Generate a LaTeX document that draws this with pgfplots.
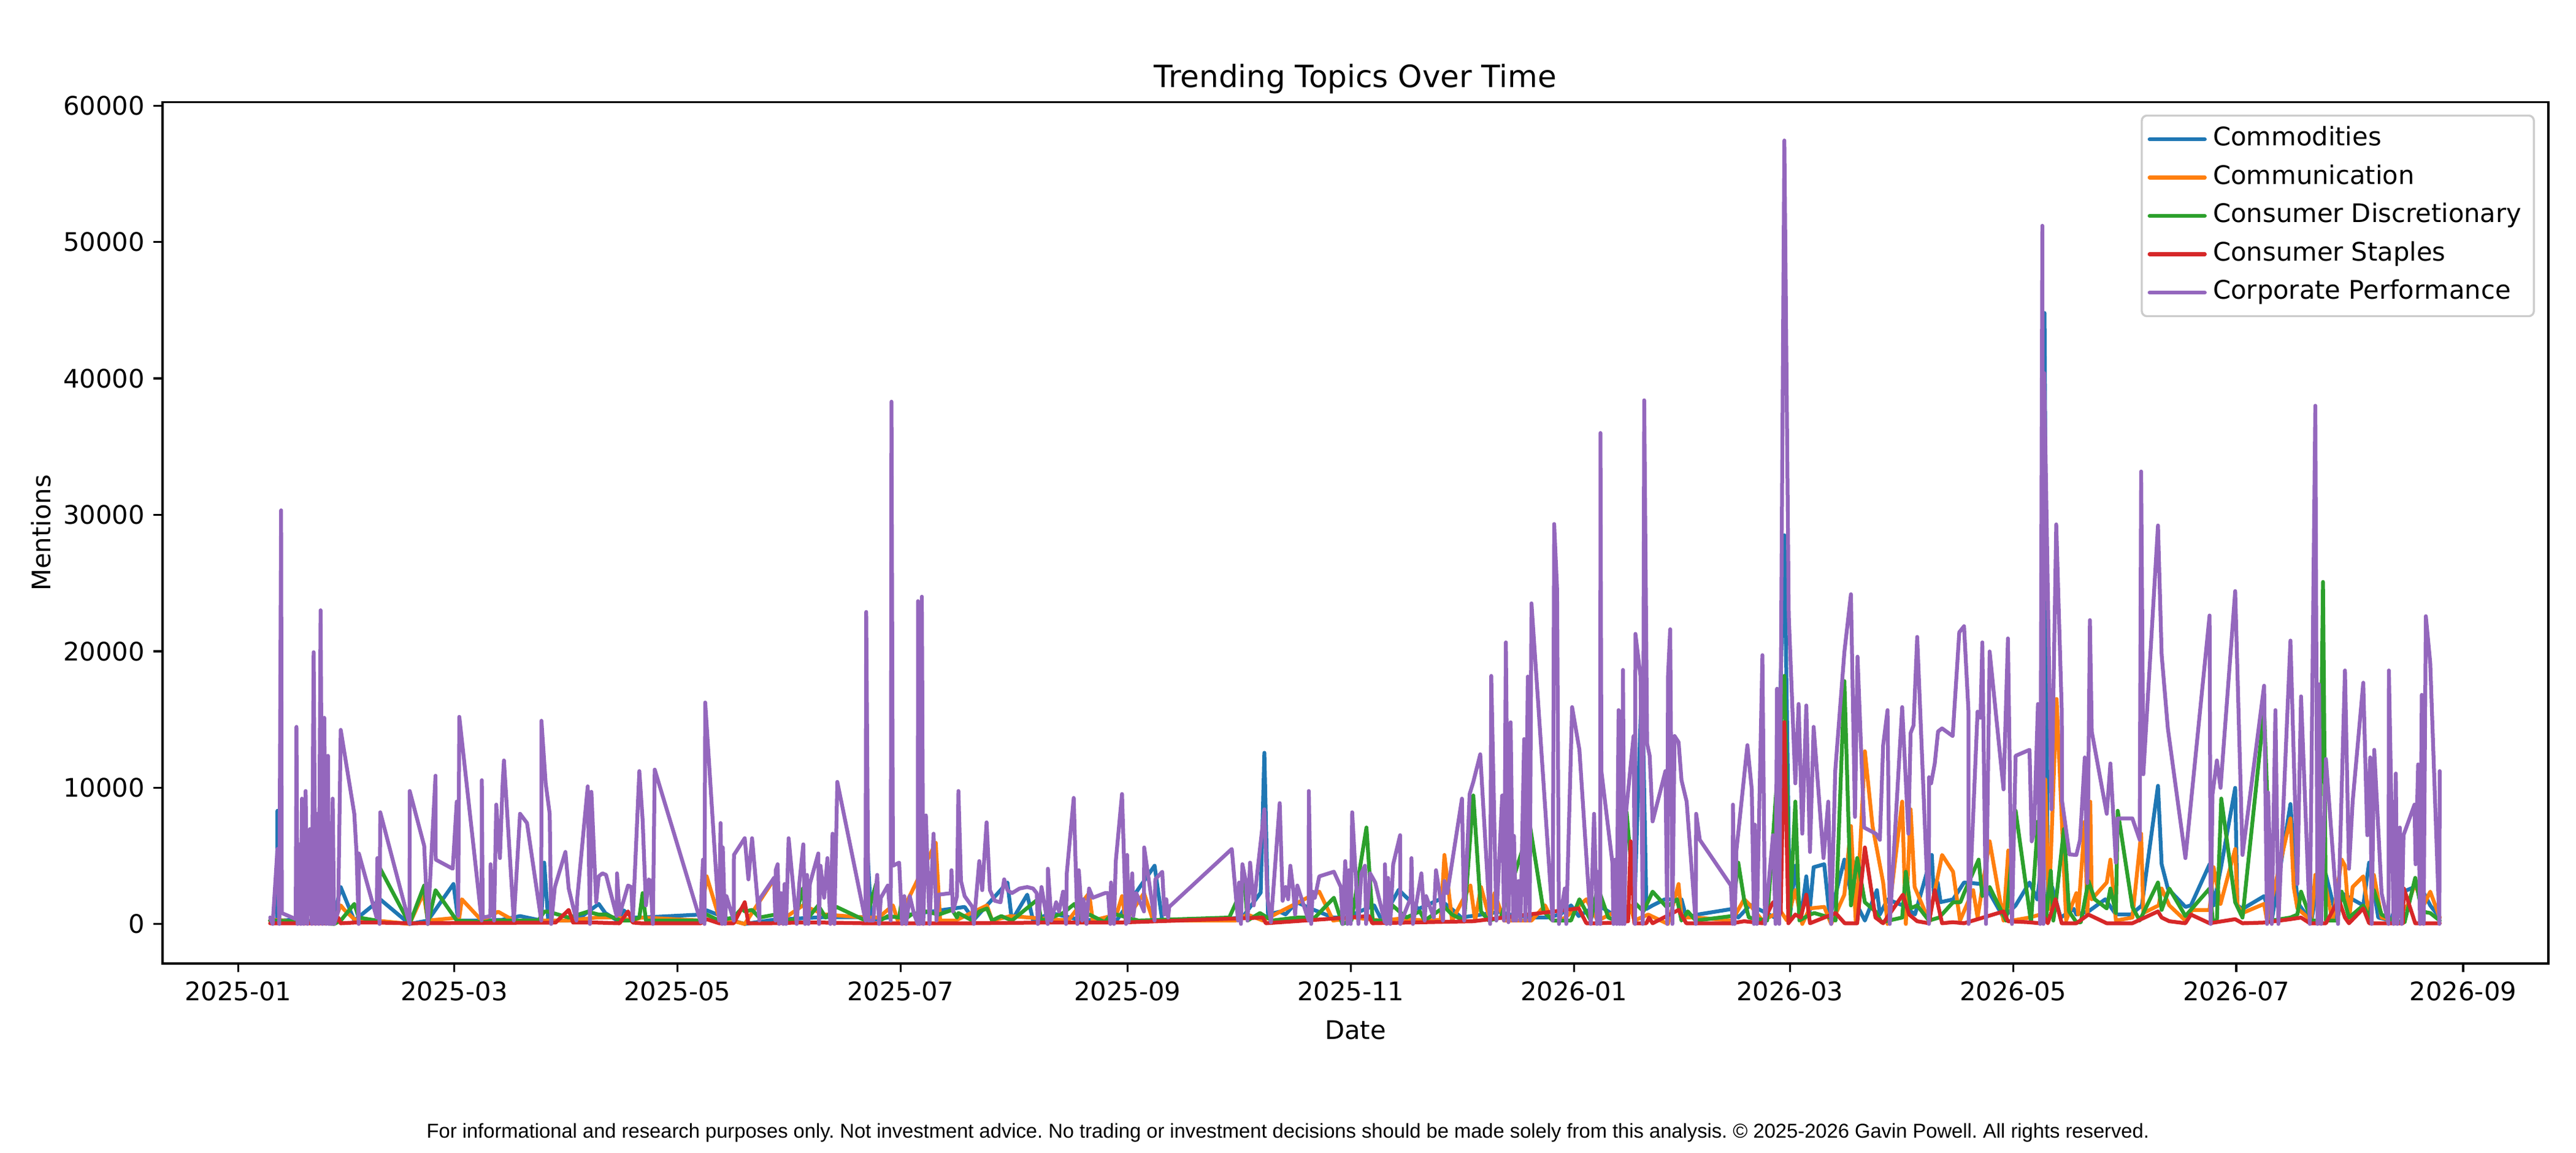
\documentclass[border=0pt]{standalone}
\usepackage{pgfplots}
\pgfplotsset{compat=1.18}
\usepackage{fontspec}
\setmainfont{DejaVu Sans}
\newfontfamily\footfont{Liberation Sans}
\definecolor{c0}{HTML}{1F77B4}
\definecolor{c1}{HTML}{FF7F0E}
\definecolor{c2}{HTML}{2CA02C}
\definecolor{c3}{HTML}{D62728}
\definecolor{c4}{HTML}{9467BD}
\tikzset{ser/.style={line width=1.5bp, line join=round, line cap=round}}
\begin{document}
\frenchspacing
\begin{tikzpicture}
\useasboundingbox (0,0) rectangle (1008bp,451.2bp);
\begin{axis}[
  at={(63.6bp,74.2bp)}, anchor=south west,
  scale only axis, width=933.6bp, height=336.96bp,
  xmin=-20.7, xmax=631.3, ymin=-2891, ymax=60252,
  xtick={0,59,120,181,243,304,365,424,485,546,608},
  xticklabels={2025-01,2025-03,2025-05,2025-07,2025-09,2025-11,2026-01,2026-03,2026-05,2026-07,2026-09},
  ytick={0,10000,20000,30000,40000,50000,60000},
  scaled y ticks=false,
  yticklabel style={/pgf/number format/.cd, fixed, 1000 sep={}, assume math mode=true},
  tick align=outside, major tick length=3.5bp,
  tick style={line width=0.8bp, black},
  axis line style={line width=0.8bp},
  tick pos=left,
  tick label style={font=\fontsize{10bp}{12bp}\selectfont},
  label style={font=\fontsize{10bp}{12bp}\selectfont},
  xlabel={Date}, ylabel={Mentions},
  xlabel style={at={(axis description cs:0.5,-0.0777)}, anchor=center},
  ylabel style={at={(axis description cs:-0.051,0.5)}, anchor=center},
  legend cell align=left,
  legend image code/.code={\draw[#1, line width=1.5bp] (0bp,0bp) -- (21.6bp,0bp);},
  legend style={at={(1,1)}, anchor=north east, xshift=-5.3bp, yshift=-4.8bp,
    draw=black!20, line width=0.8bp, rounded corners=2bp,
    fill=white, fill opacity=0.8, draw opacity=1, text opacity=1,
    inner xsep=2.3bp, inner ysep=2.75bp, row sep=2bp,
    font=\fontsize{10bp}{12bp}\selectfont,
    nodes={inner xsep=2.5bp, inner ysep=1.5bp, text height=7.6bp, text depth=2.4bp}},
]
% Commodities
\addplot[c0, ser] coordinates {
(8.7,250) (10.6,300) (10.7,8300) (11.2,250) (15,300) (20,200) (26,300) (28.0,2700) (31.7,250) (38.8,1800)
(46.8,0) (51.8,250) (58.8,2930) (60.1,250) (66.8,250) (72,300) (77.0,580) (78.9,470) (82.8,250) (83.6,4500)
(84.7,250) (86.9,250) (92.4,250) (95.7,920) (98.5,1470) (100.3,800) (103.6,250) (105.3,1000) (107.8,470) (110.1,470)
(127.0,700) (128.0,1000) (135.1,250) (138.4,0) (146,300) (160,500) (171.6,500) (172.0,5000) (173,300) (198.5,1250)
(201,300) (210.2,3040) (211.4,250) (215.6,2150) (217.2,250) (222.2,800) (230,300) (240,250) (250.4,4270) (252.5,250)
(271.5,400) (274.4,470) (279.4,2300) (280.4,12550) (281.4,700) (284.6,900) (286.2,700) (289.2,1600) (293.3,1100) (299.2,470)
(302.5,470) (310.4,1360) (312.5,250) (317.1,2500) (322.5,1100) (328.3,1800) (332.5,900) (334.2,470) (345,900) (347,700)
(353.4,470) (357.5,470) (361.3,700) (364.2,1360) (366.3,580) (371.5,1400) (375.7,700) (379.8,1100) (381.5,1100) (383.6,18140)
(384.8,1100) (386.5,1360) (389.8,1800) (394.4,1800) (395.7,470) (399.0,700) (408.2,1100) (409.9,470) (413.2,1400) (419.9,470)
(422.5,28500) (424.0,470) (425.5,4270) (427.0,350) (428.5,3490) (429.4,900) (430.5,4160) (433.4,4380) (434.9,470) (438.9,4720)
(440.7,2260) (444.5,250) (447.8,2480) (448.6,700) (450.7,1800) (454.9,1360) (458.2,700) (462.8,5060) (463.4,1800) (464.4,3040)
(465.2,1600) (468.6,1800) (471.6,3040) (476.6,2930) (478.6,2260) (482.4,470) (485.7,1360) (489.5,3040) (491.6,1800) (492.8,4500)
(493.6,44800) (494.5,1360) (495.7,2700) (498.0,470) (501.6,1100) (502.3,700) (505.6,920) (510.2,1810) (513.1,700) (517.3,700)
(520.2,1360) (524.6,10130) (525.6,4380) (527.3,2600) (532.1,1250) (533.6,1360) (538.7,4380) (539.8,1360) (541.9,4270) (545.7,9980)
(546.3,1360) (547.7,1100) (553.6,2040) (555.7,250) (560.8,8790) (562.7,1600) (566.5,130) (568.6,3600) (570.5,3600) (573.6,250)
(574.8,2260) (577.8,1800) (580.7,1360) (582.3,4500) (584.8,470) (588.2,250) (590.7,2260) (594.7,2710) (596.2,2830) (599.0,1360)
(601.6,470)
};
% Communication
\addplot[c1, ser] coordinates {
(8.7,250) (11,300) (15,150) (26,100) (28.0,1360) (29.0,1030) (31.7,350) (37.8,250) (46.8,0) (50.6,2260)
(51.8,250) (60.4,470) (61.1,1810) (66.5,250) (71,900) (75.3,250) (86,250) (90,250) (98,470) (104,470)
(107.8,250) (110.1,470) (126.4,250) (128.0,3490) (131.4,470) (138.4,0) (146.4,3270) (148.3,250) (154.3,1360) (160.1,700)
(171.4,470) (175,470) (178.9,1360) (180.2,250) (190.6,5950) (191.8,250) (196,250) (204.6,1360) (206.0,250) (211,580)
(226.8,250) (232.5,2260) (233.5,250) (240.0,690) (241.5,2040) (242.5,250) (247.5,2260) (250.0,250) (272.5,250) (275.8,690)
(280.0,250) (295.4,2370) (299.2,250) (305.0,470) (312.0,250) (318.0,400) (324.0,250) (328.6,300) (329.6,5060) (331.7,250)
(336.7,2820) (338.0,250) (339.6,2710) (342.1,250)
(343.3,2260) (345.9,250) (353.4,250) (357.1,1360) (359.2,250) (360.9,250) (362.6,470) (368.4,1810) (370.1,920) (371.5,250)
(374.8,690) (380.3,1360) (381.5,250) (385.3,690) (390.7,0) (393.6,2930) (394.4,470) (398.3,470) (408.2,250) (411.5,1810)
(413.2,1360) (416.5,250) (421.5,920) (423.2,250) (425.5,2480) (427.4,0) (429.4,1140) (433.4,1250) (435.3,0) (438.9,2150)
(440.7,7180) (442.0,250) (443.2,5500) (444.5,12660) (446.6,7180) (449.5,3040) (450.7,0) (454.7,8970) (455.7,0) (457.0,8410)
(458.1,2710) (462.0,250) (465.6,5060) (468.6,3830) (470.5,250) (474.1,2480) (475.3,470) (478.6,6060) (482.4,250) (483.7,5390)
(484.7,250) (489.5,470) (492.4,690) (493.8,10600) (494.8,1100) (496.9,16500) (499.5,250) (502.3,2260) (502.8,700) (504.6,7500)
(505.3,700) (506.1,8970) (506.5,1810) (510.6,3040) (511.6,4720) (513.1,250) (517.6,470) (520.0,6620) (520.6,800) (524.8,1360)
(525.6,2600) (527.7,1360) (532.1,250) (534.0,1030) (538.7,1030) (539.8,4160) (541.7,1470) (545.7,5500) (546.3,1360) (547.7,800)
(553.6,1470) (554.4,250) (560.8,7740) (561.7,2710) (562.7,1140) (566.5,250) (567.6,3600) (569.7,3710) (572.3,250) (574.8,4720)
(575.7,4270) (576.8,250) (577.8,2710) (580.7,3490) (582.3,470) (583.6,3600) (585.7,470) (589.0,250) (592.8,1360) (594.8,2930)
(597.2,1360) (599.0,2370) (601.6,470)
};
% Consumer Discretionary
\addplot[c2, ser] coordinates {
(8.7,250) (15,200) (26.2,0) (28.0,250) (31.7,1470) (32.9,470) (37.8,250) (38.8,4050) (46.8,0) (50.8,2820)
(51.8,0) (53.9,2480) (59.7,250) (66.5,130) (70,250) (82,250) (83.6,900) (84.7,900) (90.3,470) (95.5,900)
(98.5,690) (100.5,690) (104.5,250) (107.4,250) (109.6,470) (110.5,2260) (111.4,250) (126.4,250) (128.0,690) (131.4,250)
(135.3,470) (137.6,1140) (138.4,920) (140.4,1030) (142.4,470) (146.8,690) (149.3,350) (152,250) (154.3,2600) (155.1,250)
(158.5,1360) (160.5,470) (163.5,1250) (171.4,250) (174.3,2930) (175.4,250) (177.5,580) (180.6,470) (181.4,1920) (181.8,250)
(183.9,690) (187.9,920) (191.4,690) (195.1,1030) (196.4,470) (196.8,800) (200.6,250) (202.5,920) (204.6,1140) (206.0,250)
(208.5,580) (211.4,250) (218.5,1810) (219.4,250) (222.2,470) (225.4,800) (228.5,1470) (230.2,470) (232.6,690) (236.8,130)
(238.5,690) (240.0,690) (246,250) (270.8,470) (275.0,2930) (275.8,250) (279.2,800) (282.5,250) (289.1,470) (294.2,470)
(299.4,1920) (301.7,0) (304.2,250) (308.3,7070) (310.0,250) (314.2,250) (315.4,1360) (319.2,470) (322.9,920) (324.2,250)
(329.6,1250) (331.7,690) (335.0,250) (337.5,9420) (339.6,920) (341.7,250) (345,470) (353.0,7180) (356.7,920) (359.2,250)
(361.0,250) (364.2,250) (366.5,1810) (369.6,250) (371.5,2700) (374.4,470) (376.5,250) (379.4,8190) (381.5,1590) (384.0,920)
(386.5,2370) (390.3,1250) (393.2,1810) (394.4,250) (396.1,920) (398.3,250) (408.2,580) (409.9,4500) (411.5,1800) (412.8,470)
(417.8,250) (422.5,18190) (424.0,470) (425.5,8970) (426.6,250) (429.5,690) (430.7,800) (434.9,470) (436.5,250) (438.9,17810)
(440.7,1360) (442.4,4830) (444.5,1590) (447.4,920) (449.0,130) (454.7,470) (455.7,3830) (457.0,1140) (458.8,1360) (462.0,250)
(464.8,470) (468.6,1590) (470.6,1590) (471.6,2260) (475.6,4720) (476.6,2040) (478.6,2710) (483.1,250) (485.7,8300) (489.9,130)
(491.8,7520) (493.0,3830) (494.0,250) (495.3,3900) (496.0,250) (496.7,1600) (498.9,6960) (500.3,920) (502.3,130) (503.5,130)
(505.6,3150) (507.3,1810) (510.6,1140) (511.6,2600) (513.1,800) (513.6,8300) (517.6,1250) (519.6,250) (524.6,3040) (525.6,1030)
(527.7,2600) (532.1,580) (538.7,2600) (539.6,250) (540.7,250) (541.9,9190) (545.7,1590) (547.7,470) (553.6,15680) (555.7,250)
(560.8,470) (562.7,690) (563.7,2370) (566.5,250) (568.6,250) (569.7,25080) (570.5,250) (573.6,250) (574.8,2370) (576.8,470)
(580.7,1360) (582.3,470) (583.6,2480) (585.7,690) (589.0,250) (592.0,130) (594.9,3380) (596.7,920) (599.0,800) (601.6,250)
};
% Consumer Staples
\addplot[c3, ser] coordinates {
(8.7,50) (26.2,50) (27.3,470) (28.0,50) (31.7,100) (37.8,100) (46.8,50) (86.7,100) (90.3,1030) (91.5,100)
(98.0,100) (104.2,50) (106.5,920) (107.8,100) (110.1,50) (126.4,50) (128.0,350) (131.4,50) (135.4,50) (138.4,1590)
(139.4,50) (145.5,50) (153,100) (160,100) (171,50) (200,50) (220,100) (240.8,100) (280.0,470) (280.8,50)
(309.0,580) (309.9,50) (337.5,200) (366.3,1140) (368.4,50) (371.5,50) (376.5,100) (379.8,200) (380.5,6060) (381.5,50)
(384.8,50) (385.5,470) (386.5,50) (393.6,1030) (395.7,50) (408.2,50) (411.5,200) (416.5,50) (419.4,1590) (421.5,800)
(422.5,14800) (423.6,50) (425.5,690) (427.0,470) (428.5,2150) (429.5,50) (436.5,800) (439.0,50) (442.4,50) (444.5,5610)
(447.4,470) (449.5,50) (454.9,2150) (456.6,690) (458.8,200) (462.0,50) (463.6,2480) (465.6,50) (468.5,130) (471.6,50)
(482.4,920) (483.6,200) (489.0,130) (492.4,50) (493.5,500) (494.5,50) (496.6,1810) (498.3,50) (502.3,50) (505.6,690)
(510.6,50) (513.6,50) (517.6,50) (520.0,350) (524.6,920) (525.6,470) (527.7,200) (532.1,50) (533.6,690) (538.7,50)
(545.7,350) (547.7,50) (553.6,100) (560.8,350) (563.7,470) (566.1,50) (570.5,50) (574.0,1810) (575.7,470) (576.8,50)
(580.7,1140) (582.3,50) (591.5,50) (591.8,2600) (594.9,50) (597.0,50) (601.6,50)
};
% Corporate Performance
\addplot[c4, ser] coordinates {
(8.7,470) (9.4,0) (10.7,5500) (11.2,0) (11.7,30330) (11.9,800) (15.7,360) (15.9,14450) (16.2,0) (16.7,5840)
(17.1,0) (17.4,9190) (17.9,0) (18.4,9750) (18.9,0) (19.6,6960) (20.1,0) (20.6,19930) (21.1,0) (21.6,8080)
(22.0,0) (22.5,23000) (23.0,0) (23.5,15120) (24.0,0) (24.5,12330) (24.8,0) (25.1,6620) (25.4,0) (25.8,9190)
(26.2,0) (27.3,920) (28.0,14230) (31.7,8080) (32.3,5280) (32.9,0) (32.95,5170) (37.8,470) (38.0,4830) (38.6,0)
(38.8,8190) (46.8,0) (46.85,9750) (50.8,5730) (51.8,0) (53.9,10870) (53.95,4720) (58.6,4050) (59.7,8970) (60.1,600)
(60.4,15190) (66.5,250) (66.55,10540) (66.8,470) (68.9,580) (68.95,4380) (69.9,250) (70.5,8750) (71.5,4830) (72.2,10090)
(72.6,11990) (75.3,250) (77.0,8080) (78.9,7400) (82.8,250) (82.85,14900) (84.0,10310) (85.1,8080) (85.5,0) (86.5,2700)
(89.4,5280) (90.3,2600) (92.4,250) (92.6,1810) (95.5,10090) (96.1,0) (96.5,9690) (97.8,1590) (98.5,3490) (99.5,3710)
(100.5,3600) (103.4,580) (103.5,3710) (104.2,690) (106.5,2820) (107.4,2710) (107.8,250) (109.6,11210) (110.5,7630) (111.4,1360)
(112.2,3270) (112.6,3150) (113.3,0) (113.8,11320) (126.4,130) (126.6,2600) (127.0,4720) (127.4,0) (127.6,16240) (131.4,250)
(131.8,7400) (132.2,0) (132.4,5610) (133.0,0) (133.4,2040) (135.4,250) (135.45,5060) (138.4,6290) (139.4,3270) (140.4,6290)
(142.4,250) (142.45,1810) (146.4,3380) (146.8,250) (146.85,3940) (147.4,4380) (147.8,0) (148.3,2260) (148.9,0) (149.3,2930)
(149.7,0) (150.4,6290) (152.6,0) (153.3,2930) (154.4,5840) (154.9,0) (155.4,3600) (155.8,0) (156.2,2930) (158.5,5170)
(158.7,0) (159.1,4270) (160.1,1920) (161.0,4830) (161.8,0) (162.4,6620) (162.9,0) (163.7,10420) (171.4,250) (171.6,22880)
(172.2,250) (173.5,250) (174.6,3600) (175.1,0) (175.6,1920) (177.5,2820) (178.3,250) (178.5,38300) (178.9,4270) (180.6,4500)
(181.4,0) (182.0,2040) (182.5,0) (183.5,2040) (184.7,690) (185.7,0) (185.75,23670) (186.2,0) (186.8,24000) (187.2,0)
(187.9,7960) (188.9,0) (190.0,6620) (190.8,250) (191.4,2150) (194.7,2260) (194.9,3940) (195.3,920) (196.4,2040) (196.8,9750)
(197.5,3150) (198.5,2040) (200.6,1250) (201.0,0) (202.5,4610) (203.3,2480) (204.5,7450) (205.4,2480) (206.7,1700) (208.3,1590)
(209.3,3270) (210.2,2480) (211.4,2260) (213.5,2600) (215.6,2710) (217.2,2600) (218.2,2260) (218.5,0) (219.5,2710) (221.2,0)
(221.25,4050) (222.2,250) (223.5,1590) (224.3,920) (225.4,2370) (226.2,0) (226.4,3710) (228.3,9240) (229.3,0) (229.7,3940)
(230.6,250) (231.0,1810) (231.8,0) (232.5,2600) (233.5,1920) (236.8,2260) (237.7,2260) (238.3,0) (238.5,3040) (239.3,0)
(239.8,4610) (241.5,9530) (242.6,0) (242.9,5060) (243.3,130) (244.3,3710) (244.6,580) (245.4,2260) (247.5,920) (247.55,5610)
(250.4,250) (250.6,3270) (252.5,3830) (253.1,690) (253.6,1810) (254.1,470) (254.4,1250) (271.5,5500) (273.2,250) (273.5,3040)
(274.0,0) (274.4,4380) (275.4,3040) (275.8,250) (276.5,4500) (277.5,1360) (278.5,3830) (280.4,8410) (281.2,2040) (282.2,130)
(284.6,8860) (285.4,1700) (286.2,2710) (286.9,1810) (287.5,4270) (288.3,2480) (288.8,690) (289.4,2820) (292.5,250) (292.55,9750)
(293.2,0) (293.6,2370) (294.2,1920) (295.4,3490) (299.4,3830) (301.3,2710) (301.8,0) (302.5,4610) (303.1,0) (303.5,3940)
(304.0,0) (304.4,8190) (306.1,0) (306.9,3710) (307.9,4270) (308.2,0) (309.3,3710) (310.7,3040) (313.3,130) (313.35,4380)
(313.8,0) (314.2,3380) (314.8,0) (315.6,4380) (317.5,6510) (317.55,0) (320.4,1920) (320.6,4830) (321.0,0) (323.3,3710)
(324.2,250) (324.6,2040) (326.7,470) (327.3,3940) (328.3,2260) (329.2,250) (329.6,3150) (330.4,2260) (334.4,9190) (335.0,250)
(336.5,9530) (337.5,10420) (339.4,12440) (342.1,0) (342.4,18190) (343.8,250) (345.4,9420) (345.9,250) (346.4,20650) (347.1,130)
(347.7,14790) (348.4,250) (348.6,6460) (349.2,250) (349.9,3150) (350.4,250) (351.4,13560) (351.7,250) (352.4,18140) (352.9,250)
(353.4,23510) (359.2,250) (359.6,29330) (360.4,24520) (360.9,0) (362.5,2600) (362.9,0) (364.5,15900) (366.5,12770) (369.6,0)
(370.5,8080) (371.3,0) (371.5,3830) (372.2,0) (372.25,36000) (372.5,11210) (375.5,4500) (375.8,0) (376.3,4720) (376.7,0)
(377.2,15680) (377.5,0) (377.8,15570) (378.2,0) (378.4,18630) (378.8,0) (379.2,8080) (381.3,13780) (381.7,0) (381.8,21270)
(383.2,18140) (383.8,0) (384.2,38400) (385.0,13220) (385.7,12330) (386.5,7520) (390.0,11210) (390.5,0) (390.7,18140) (391.3,21610)
(391.9,0) (392.5,13780) (393.6,13330) (394.4,10540) (395.8,8970) (398.3,0) (398.4,8080) (399.4,6170) (407.9,2820) (408.4,0)
(408.45,8750) (408.9,0) (409.4,5390) (412.4,13110) (413.6,9870) (414.2,0) (414.4,7290) (415.0,0) (416.5,19710) (417.2,0)
(419.4,6510) (420.1,0) (420.5,17250) (421.1,0) (422.5,57450) (423.7,22640) (425.5,10310) (426.4,16130) (427.4,6620) (428.5,16020)
(429.5,5280) (430.5,14450) (433.2,4830) (434.5,8970) (435.3,0) (436.4,11210) (438.9,19930) (440.7,24180) (441.8,7850) (442.5,19600)
(444.3,7070) (447.5,6620) (448.6,6170) (449.5,13110) (450.7,15680) (451.3,0) (454.7,15900) (456.4,6620) (457.0,14000) (457.8,14560)
(458.8,21050) (462.0,0) (462.05,10760) (462.6,10310) (463.6,11770) (464.5,14120) (465.6,14340) (468.5,13780) (470.3,21390) (471.6,21830)
(472.8,15680) (472.85,0) (475.3,15570) (476.1,15120) (476.6,20650) (477.6,0) (478.6,19980) (482.4,9870) (483.6,20940) (484.7,0)
(485.7,12330) (489.5,12770) (490.1,6060) (490.7,6620) (491.8,16130) (492.4,0) (493.0,51200) (493.3,0) (493.5,40400) (495.5,8400)
(496.8,29300) (498.3,15620) (498.4,9000) (500.4,5100) (502.3,5060) (503.3,6170) (504.6,12210) (505.3,3000) (506.0,22280) (506.5,14120)
(510.6,8080) (511.6,11770) (513.1,4500) (513.6,7740) (517.6,7740) (519.6,6170) (520.0,33180) (520.6,10980) (524.6,29220) (525.6,19750)
(527.3,14340) (532.1,4830) (538.7,22620) (539.0,0) (539.5,9500) (540.7,11990) (541.7,9980) (545.7,24410) (547.7,5060) (553.6,17470)
(554.4,0) (554.7,9640) (555.7,0) (556.7,15680) (557.5,0) (560.8,20780) (562.7,2930) (563.7,16690) (566.1,0) (567.6,38000)
(568.2,0) (568.6,17580) (569.2,0) (570.5,12100) (573.8,0) (575.7,18590) (576.8,4050) (577.8,8970) (580.7,17690) (581.8,6510)
(582.6,12210) (583.0,0) (583.7,12770) (585.7,2260) (587.6,0) (587.7,18590) (589.0,0) (589.6,11030) (590.0,0) (590.7,7070)
(591.2,0) (591.7,6510) (594.7,8750) (595.0,4380) (595.7,11700) (596.2,0) (596.7,16800) (597.2,0) (597.8,22570) (599.0,19150)
(601.5,0) (601.6,11210)
};
\legend{Commodities,Communication,Consumer Discretionary,Consumer Staples,Corporate Performance}
\end{axis}
\node[anchor=base, font=\fontsize{12bp}{14bp}\selectfont] at (530.4bp,417.1bp) {Trending Topics Over Time};
\node[anchor=base, font=\footfont\fontsize{7.85bp}{10bp}\selectfont] at (504bp,6.0bp) {For informational and research purposes only. Not investment advice. No trading or investment decisions should be made solely from this analysis. \textcopyright{} 2025-2026 Gavin Powell. All rights reserved.};
\end{tikzpicture}
\end{document}
